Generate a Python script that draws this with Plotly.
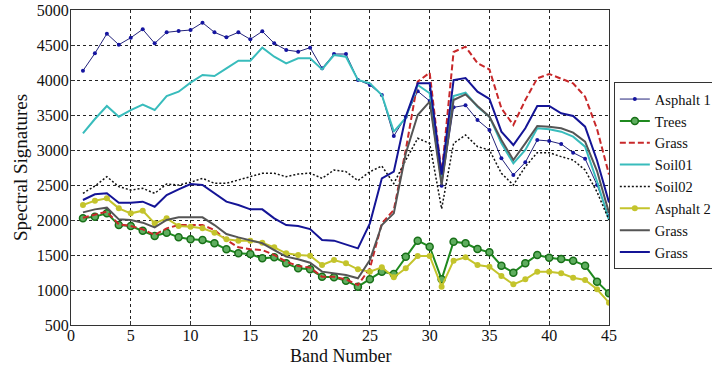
import plotly.graph_objects as go

bands = list(range(1, 46))

asphalt1 = [4133, 4381, 4661, 4504, 4604, 4724, 4524, 4681, 4700, 4714,
            4819, 4681, 4610, 4681, 4581, 4695, 4524, 4429, 4405, 4462,
            4167, 4371, 4371, 4000, 3929, 3786, 3200, 3476, 3840, 3700,
            2490, 3610, 3638, 3429, 3286, 2881, 2643, 2824, 3143, 3129,
            3086, 2962, 2876, 2500, 2050]
trees = [2024, 2048, 2095, 1928, 1914, 1848, 1771, 1819, 1752, 1724,
         1714, 1667, 1581, 1524, 1514, 1452, 1467, 1381, 1310, 1295,
         1190, 1181, 1133, 1048, 1152, 1262, 1229, 1476, 1705, 1619,
         1152, 1690, 1667, 1586, 1538, 1348, 1248, 1381, 1500, 1462,
         1443, 1419, 1348, 1119, 952]
grass_red = [2033, 2071, 2119, 1938, 1914, 1867, 1786, 1881, 1928, 1928,
             1928, 1857, 1714, 1610, 1581, 1571, 1500, 1405, 1343, 1320,
             1190, 1190, 1152, 1071, 1309, 1952, 2143, 3000, 3976, 4105,
             2650, 4400, 4476, 4240, 4150, 3595, 3357, 3714, 4024, 4086,
             4024, 3952, 3762, 3300, 2650]
soil01 = [3238, 3443, 3629, 3476, 3571, 3648, 3571, 3771, 3833, 3962,
          4071, 4057, 4167, 4276, 4276, 4462, 4333, 4238, 4310, 4310,
          4152, 4357, 4333, 4000, 3952, 3786, 3262, 3457, 3929, 3810,
          2600, 3771, 3819, 3619, 3476, 3095, 2810, 3000, 3310, 3295,
          3262, 3190, 3048, 2550, 2000]
soil02 = [2381, 2486, 2619, 2476, 2428, 2452, 2381, 2514, 2500, 2540,
          2595, 2524, 2524, 2571, 2619, 2667, 2667, 2619, 2657, 2670,
          2595, 2714, 2690, 2562, 2690, 2771, 2520, 2857, 3167, 3095,
          2160, 3095, 3214, 3048, 3000, 2667, 2500, 2762, 2962, 2962,
          2905, 2857, 2714, 2400, 2000]
asphalt2 = [2214, 2276, 2309, 2167, 2095, 2133, 1952, 2024, 1914, 1905,
            1881, 1819, 1724, 1705, 1705, 1676, 1609, 1524, 1500, 1490,
            1357, 1428, 1381, 1295, 1262, 1324, 1181, 1310, 1486, 1486,
            1048, 1419, 1467, 1357, 1333, 1200, 1081, 1152, 1262, 1262,
            1238, 1176, 1143, 1010, 819]
grass_gray = [2109, 2152, 2176, 2009, 2000, 1962, 1895, 2000, 2038, 2038,
              2038, 1928, 1800, 1752, 1705, 1667, 1571, 1476, 1438, 1390,
              1262, 1238, 1214, 1167, 1428, 1928, 2095, 2950, 3500, 3690,
              2500, 3714, 3795, 3629, 3476, 3143, 2857, 3095, 3343, 3333,
              3310, 3248, 3119, 2700, 2100]
grass_navy = [2286, 2367, 2381, 2247, 2247, 2262, 2190, 2357, 2438, 2514,
              2500, 2381, 2262, 2214, 2152, 2152, 2024, 1928, 1914, 1870,
              1714, 1705, 1652, 1595, 1952, 2595, 2690, 3476, 3952, 3952,
              2650, 4000, 4029, 3833, 3730, 3262, 3071, 3310, 3629, 3629,
              3524, 3486, 3333, 2850, 2250]

x_ticks = [0, 5, 10, 15, 20, 25, 30, 35, 40, 45]
y_ticks = [500, 1000, 1500, 2000, 2500, 3000, 3500, 4000, 4500, 5000]

FONT = "Liberation Serif, Times New Roman, serif"

fig = go.Figure()
fig.add_trace(go.Scatter(x=bands, y=asphalt1, name="Asphalt 1", mode="lines+markers",
                         line=dict(color="#23237a", width=1),
                         marker=dict(symbol="circle", size=4, color="#1515a0")))
fig.add_trace(go.Scatter(x=bands, y=trees, name="Trees", mode="lines+markers",
                         line=dict(color="#1f8a1f", width=2),
                         marker=dict(symbol="circle", size=7, color="#5fae5f",
                                     line=dict(color="#187018", width=1.5))))
fig.add_trace(go.Scatter(x=bands, y=grass_red, name="Grass", mode="lines",
                         line=dict(color="#c8282a", width=2, dash="6px,3px")))
fig.add_trace(go.Scatter(x=bands, y=soil01, name="Soil01", mode="lines",
                         line=dict(color="#38bcbc", width=2)))
fig.add_trace(go.Scatter(x=bands, y=soil02, name="Soil02", mode="lines",
                         line=dict(color="#111111", width=1.5, dash="2px,2px")))
fig.add_trace(go.Scatter(x=bands, y=asphalt2, name="Asphalt 2", mode="lines+markers",
                         line=dict(color="#c4c42c", width=2),
                         marker=dict(symbol="circle", size=6, color="#c4c42c")))
fig.add_trace(go.Scatter(x=bands, y=grass_gray, name="Grass", mode="lines",
                         line=dict(color="#555555", width=2)))
fig.add_trace(go.Scatter(x=bands, y=grass_navy, name="Grass", mode="lines",
                         line=dict(color="#141496", width=2)))

axis_common = dict(
    showline=True, linecolor="#333333", linewidth=1.2, mirror=True,
    showgrid=True, gridcolor="#222222", gridwidth=1, griddash="3px,3px",
    zeroline=False, ticks="inside", ticklen=4, tickcolor="#333333",
    tickfont=dict(family=FONT, size=16, color="#111111"),
)

fig.update_xaxes(range=[0, 45], tickvals=x_ticks, ticktext=[str(v) for v in x_ticks],
                 ticklabelstandoff=-4, **axis_common)
fig.update_yaxes(range=[500, 5000], tickvals=y_ticks, ticktext=[str(v) for v in y_ticks],
                 ticklabelstandoff=-2,
                 title=dict(text="Spectral Signatures", font=dict(family=FONT, size=19, color="#111111"), standoff=4),
                 **axis_common)

fig.add_annotation(text="Band Number", xref="paper", yref="paper", x=0.5, y=-0.097,
                   xanchor="center", yanchor="middle", showarrow=False,
                   font=dict(family=FONT, size=18, color="#111111"))

fig.update_layout(
    width=712, height=366,
    margin=dict(l=71, r=103, t=10, b=41, autoexpand=False),
    plot_bgcolor="white", paper_bgcolor="white",
    font=dict(family=FONT, size=16, color="#111111"),
    showlegend=True,
    legend=dict(x=1.009, y=0.771, xanchor="left", yanchor="top",
                bgcolor="white", bordercolor="#333333", borderwidth=1,
                font=dict(family=FONT, size=14.5, color="#111111"),
                tracegroupgap=0, itemwidth=30),
)

fig.write_html("out.html", config={"displayModeBar": False},
               post_script="document.body.style.margin='0';document.body.style.overflow='hidden';")
